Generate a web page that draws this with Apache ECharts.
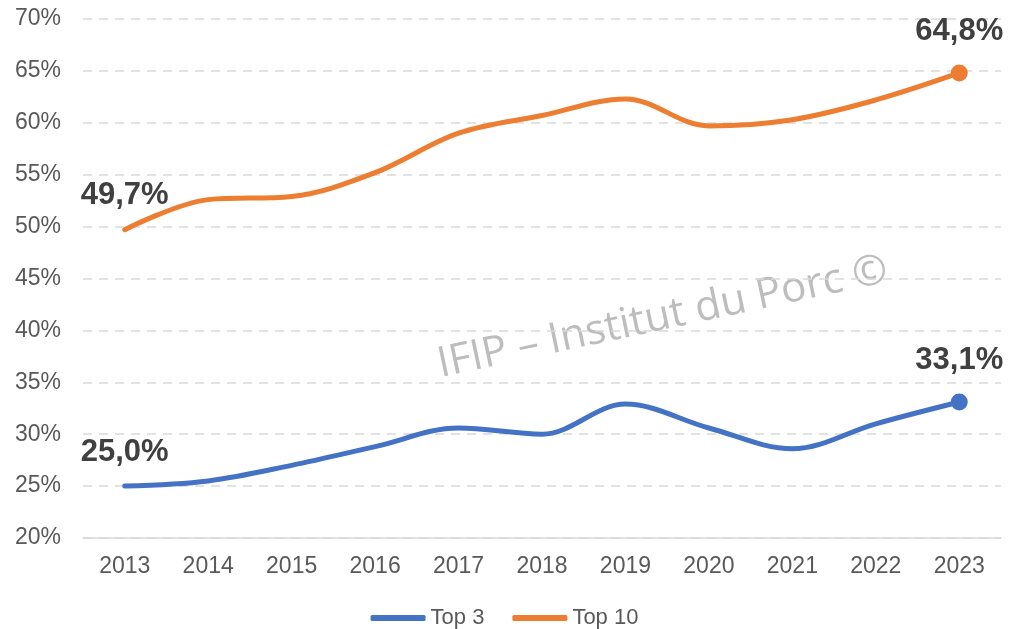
<!DOCTYPE html>
<html>
<head>
<meta charset="utf-8">
<script src="https://cdn.jsdelivr.net/npm/echarts@6/dist/echarts.min.js"></script>
<style>
html,body{margin:0;padding:0;background:#fff;}
#chart{width:1009px;height:629px;}
</style>
</head>
<body>
<div id="chart"></div>
<script>
var years = ['2013','2014','2015','2016','2017','2018','2019','2020','2021','2022','2023'];
var top3 = [25.0, 25.5, 27.0, 28.8, 30.6, 30.0, 32.9, 30.6, 28.6, 31.0, 33.1];
var top10 = [49.7, 52.6, 52.9, 55.2, 59.0, 60.7, 62.3, 59.7, 60.3, 62.2, 64.8];
var yTicks = [20, 25, 30, 35, 40, 45, 50, 55, 60, 65, 70];

function fmt(v){
	return v.toFixed(1).replace('.', ',') + '%';
}

// only first and last points get a label, last one gets a dot
// (labels hang on symbols in a line series, so the first one gets a tiny one)
function buildPoints(values){
	var out = [];
	for (var i = 0; i < values.length; i++) {
		var last = i == values.length - 1;
		var item = {value: values[i]};
		if (i == 0) {
			item.symbol = 'circle';
			item.symbolSize = 1;
			item.label = {show: true};
		}
		if (last) {
			item.symbol = 'circle';
			item.symbolSize = 17;
			item.label = {show: true};
		}
		out.push(item);
	}
	return out;
}

var labelStyle = {
	position: 'top',
	distance: 18,
	fontFamily: 'Liberation Sans, Arial',
	fontWeight: 'bold',
	fontSize: 31,
	color: '#404040',
	formatter: function (p) { return fmt(p.value); }
};

var myChart = echarts.init(document.getElementById('chart'));
myChart.setOption({
	backgroundColor: '#FFFFFF',
	animation: false,
	grid: {left: 83, right: 8, top: 19, bottom: 91},
	legend: {
		top: 602,
		left: 'center',
		itemWidth: 55,
		itemHeight: 6,
		itemGap: 28,
		icon: 'roundRect',
		textStyle: {fontFamily: 'Liberation Sans, Arial', fontSize: 22, color: '#595959'},
		data: ['Top 3', 'Top 10']
	},
	graphic: [{
		type: 'text',
		left: 434,
		top: 249,
		rotation: 0.21,
		style: {
			text: 'IFIP \u2013 Institut du Porc \u00a9',
			font: '400 42px "Open Sans", sans-serif',
			fill: '#bdbdbd'
		},
		z: 0
	}],
	xAxis: {
		type: 'category',
		data: years,
		boundaryGap: true,
		axisLine: {lineStyle: {color: '#d9d9d9', width: 1.5}},
		axisTick: {show: false},
		axisLabel: {margin: 17, fontFamily: 'Liberation Sans, Arial', fontSize: 23, color: '#595959'}
	},
	yAxis: {
		type: 'value',
		min: yTicks[0],
		max: yTicks[yTicks.length - 1],
		interval: 5,
		axisLine: {show: false},
		axisTick: {show: false},
		axisLabel: {
			margin: 22,
			fontFamily: 'Liberation Sans, Arial',
			fontSize: 23,
			color: '#595959',
			formatter: function (v) { return v + '%'; }
		},
		splitLine: {lineStyle: {color: '#d9d9d9', type: [9, 7], width: 1.5}}
	},
	series: [
		{
			name: 'Top 3',
			type: 'line',
			data: buildPoints(top3),
			smooth: 0.35,
			symbol: 'none',
			color: '#4472C4',
			lineStyle: {width: 5, cap: 'round'},
			label: labelStyle,
			z: 3
		},
		{
			name: 'Top 10',
			type: 'line',
			data: buildPoints(top10),
			smooth: 0.35,
			symbol: 'none',
			color: '#ED7D31',
			lineStyle: {width: 5, cap: 'round'},
			label: labelStyle,
			z: 3
		}
	]
});
</script>
</body>
</html>
